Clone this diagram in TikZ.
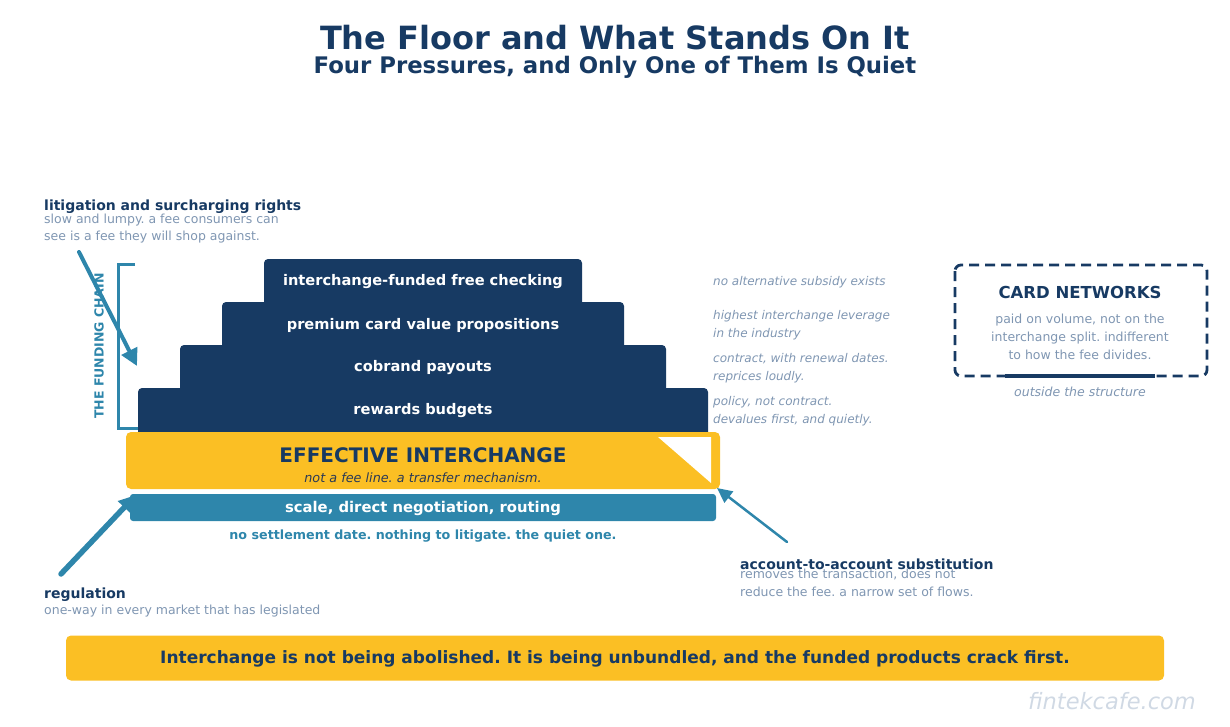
\documentclass[tikz,border=0pt]{standalone}
\usepackage{fontspec}
\setmainfont{DejaVu Sans}
\usetikzlibrary{arrows.meta}
\frenchspacing
\definecolor{navy}{HTML}{173A63}
\definecolor{gold}{HTML}{FBBF24}
\definecolor{tealc}{HTML}{2E86AB}
\definecolor{grayt}{HTML}{7F96B2}
\definecolor{wmark}{HTML}{D0D9E4}
\definecolor{subnavy}{HTML}{2B3A55}
\newcommand{\fs}[2]{\fontsize{#1}{#2}\selectfont}
\tikzset{
  steplabel/.style={text=white, font=\bfseries\fs{14.6}{17}, inner sep=0},
  headlbl/.style={text=navy, font=\bfseries\fs{14}{17}, anchor=west, inner sep=0},
  sublbl/.style={text=grayt, font=\fs{12.5}{17.5}, anchor=north west, align=left, inner sep=0},
  notelbl/.style={text=grayt, font=\itshape\fs{12}{18}, anchor=west, align=left, inner sep=0},
  pressarrow/.style={draw=tealc, line cap=round, -{Triangle[length=17pt,width=17pt]}},
}
\begin{document}
\begin{tikzpicture}[x=1pt,y=-1pt]
\useasboundingbox (0,0) rectangle (1230,727);
% title
\node[text=navy, font=\bfseries\fs{32}{36}, inner sep=0] (title) at (615,38) {The Floor and What Stands On It};
\node[text=navy, font=\bfseries\fs{22.8}{26}, inner sep=0] (subtitle) at (615,67.5) {Four Pressures, and Only One of Them Is Quiet};

% stacked boxes
\fill[navy, rounded corners=4] (264,259) rectangle (582,312);
\fill[navy, rounded corners=4] (222,302) rectangle (624,355);
\fill[navy, rounded corners=4] (180,345) rectangle (666,398);
\fill[navy, rounded corners=4] (138,388) rectangle (708,440);
\node[steplabel] (b1) at (423,282) {interchange-funded free checking};
\node[steplabel] (b2) at (423,325) {premium card value propositions};
\node[steplabel] (b3) at (423,368) {cobrand payouts};
\node[steplabel] (b4) at (423,411) {rewards budgets};

% effective interchange
\node[fill=gold, rounded corners=5, minimum width=594, minimum height=57, inner sep=0] (ei) at (423,460.5) {};
\fill[white] (658,437) -- (711,437) -- (711,483) -- cycle;
\node[text=navy, font=\bfseries\fs{20}{23}, inner sep=0] (eit) at (423,455) {EFFECTIVE INTERCHANGE};
\node[text=subnavy, font=\itshape\fs{12.8}{15}, inner sep=0] (eis) at (423,478) {not a fee line. a transfer mechanism.};

% teal bar
\node[fill=tealc, rounded corners=3, minimum width=586, minimum height=27, inner sep=0] (scale) at (423,507.5) {};
\node[text=white, font=\bfseries\fs{14.8}{17}, inner sep=0] (scalet) at (423,508) {scale, direct negotiation, routing};
\node[text=tealc, font=\bfseries\fs{12.7}{15}, inner sep=0] (quiet) at (423,536) {no settlement date. nothing to litigate. the quiet one.};

% bracket
\draw[tealc, line width=3] (135,264) -- (118,264) -- (118,428) -- (138,428);
\node[text=tealc, font=\bfseries\fs{12.5}{15}, rotate=90, inner sep=0] (chain) at (99,346) {THE FUNDING CHAIN};

% left labels
\node[headlbl] (lit) at (44,207) {litigation and surcharging rights};
\node[sublbl] (lits) at (44,213.5) {slow and lumpy. a fee consumers can\\see is a fee they will shop against.};
\node[headlbl] (reg) at (44,595) {regulation};
\node[sublbl] (regs) at (44,605) {one-way in every market that has legislated};
\node[headlbl] (a2a) at (740,564) {account-to-account substitution};
\node[sublbl] (a2as) at (740,569) {removes the transaction, does not\\reduce the fee. a narrow set of flows.};

% arrows
\coordinate (litS) at (79,252);
\coordinate (litE) at (137,366);
\coordinate (regS) at (61,574);
\coordinate (regE) at (136,495);
\coordinate (a2aS) at (787,542);
\coordinate (a2aE) at (717,488);
\draw[pressarrow, line width=4] (litS) -- (litE);
\draw[pressarrow, line width=5.5] (regS) -- (regE);
\draw[draw=tealc, line width=2.5, line cap=round, -{Triangle[length=15pt,width=14pt]}] (a2aS) -- (a2aE);

% right notes
\node[notelbl] (n1) at (713,282) {no alternative subsidy exists};
\node[notelbl] (n2) at (713,325) {highest interchange leverage\\in the industry};
\node[notelbl] (n3) at (713,368) {contract, with renewal dates.\\reprices loudly.};
\node[notelbl] (n4) at (713,411.5) {policy, not contract.\\devalues first, and quietly.};

% card networks
\draw[navy, line width=2.8, dash pattern=on 10pt off 6pt, rounded corners=6] (955,265) rectangle (1207,376);
\draw[navy, line width=4] (1005,376) -- (1155,376);
\node[text=navy, font=\bfseries\fs{16.5}{20}, inner sep=0] (cn) at (1080,292) {CARD NETWORKS};
\node[text=grayt, font=\fs{12.5}{18}, align=center, inner sep=0] (cns) at (1080,336.5) {paid on volume, not on the\\interchange split. indifferent\\to how the fee divides.};
\node[text=grayt, font=\itshape\fs{12.5}{15}, inner sep=0] (outside) at (1080,392) {outside the structure};

% footer
\node[fill=gold, rounded corners=5, minimum width=1098, minimum height=45, inner sep=0] (foot) at (615,658) {};
\node[text=navy, font=\bfseries\fs{17}{20}, inner sep=0] (foott) at (615,659) {Interchange is not being abolished. It is being unbundled, and the funded products crack first.};
\node[text=wmark, font=\itshape\fs{22.5}{26}, anchor=east, inner sep=0] (wm) at (1196,701) {fintekcafe.com};
\end{tikzpicture}
\end{document}
